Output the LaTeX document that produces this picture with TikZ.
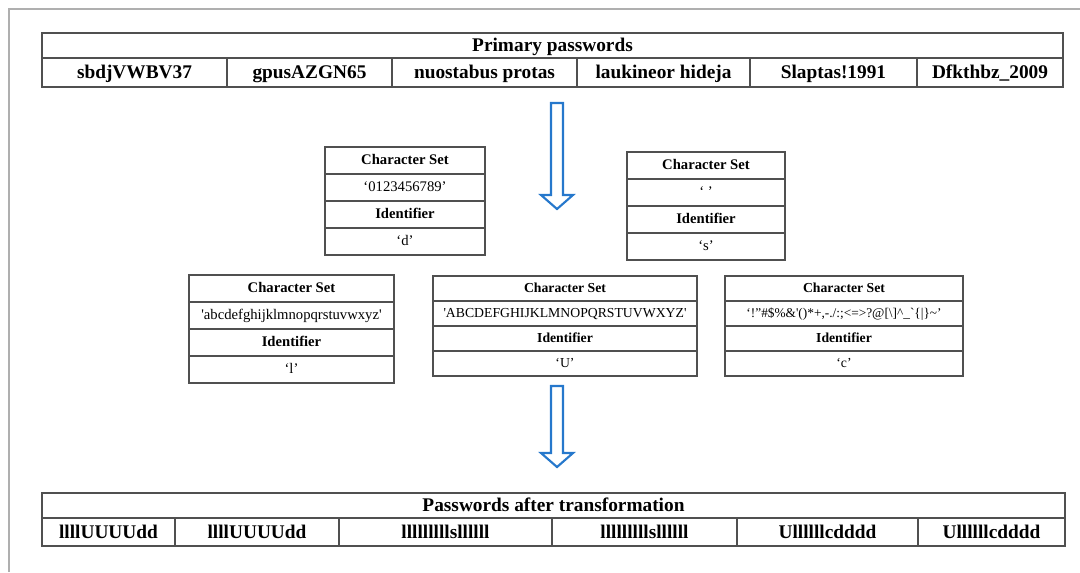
\documentclass[tikz,border=0pt]{standalone}
\usepackage{fontspec}
\setmainfont{Liberation Serif}
\usetikzlibrary{positioning}
\definecolor{arrowblue}{RGB}{38,120,204}
\definecolor{framegray}{RGB}{175,175,175}
\definecolor{rulegray}{RGB}{80,80,80}

\begin{document}
\begin{tikzpicture}[x=0.75pt,y=-0.75pt,
            cell/.style 2 args={draw=rulegray,line width=0.9pt,
                minimum width=#1*0.75pt,minimum height=#2*0.75pt,
                inner sep=0pt,outer sep=0pt,anchor=north west},
            big/.style={font=\fontsize{14.5}{16}\selectfont\bfseries,
                text height=11pt,text depth=2pt},
            head/.style={font=\fontsize{#1}{13}\selectfont\bfseries,
                text height=8pt,text depth=2pt},
            head/.default=11,
            entry/.style={font=\fontsize{#1}{13}\selectfont,
                text height=8pt,text depth=2pt},
            entry/.default=11,
            blockarrow/.style={draw=arrowblue,line width=1.6pt,fill=white,line join=miter}
        ]
        \useasboundingbox (0,0) rectangle (1080,572);
        \draw[framegray,line width=1.2pt] (9,572) -- (9,9) -- (1080,9);

        % primary passwords
        \node[cell={1021}{25},big] (prim) at (42,33) {Primary passwords};
        \node[cell={185}{29},big] (pw1) at (42,58) {sbdjVWBV37};
        \node[cell={165}{29},big,right=0pt of pw1] (pw2) {gpusAZGN65};
        \node[cell={185}{29},big,right=0pt of pw2] (pw3) {nuostabus protas};
        \node[cell={173}{29},big,right=0pt of pw3] (pw4) {laukineor hideja};
        \node[cell={167}{29},big,right=0pt of pw4] (pw5) {Slaptas!1991};
        \node[cell={146}{29},big,right=0pt of pw5] (pw6) {Dfkthbz\_2009};

        % character sets
        \node[cell={160}{27},head] (dset) at (325,147) {Character Set};
        \node[cell={160}{27},entry,below=0pt of dset] (dchars) {`0123456789'};
        \node[cell={160}{27},head,below=0pt of dchars] (did) {Identifier};
        \node[cell={160}{27},entry,below=0pt of did] (dval) {`d'};

        \node[cell={158}{27},head] (sset) at (627,152) {Character Set};
        \node[cell={158}{27},entry,below=0pt of sset] (schars) {`\ '};
        \node[cell={158}{27},head,below=0pt of schars] (sid) {Identifier};
        \node[cell={158}{27},entry,below=0pt of sid] (sval) {`s'};

        \node[cell={205}{27},head] (lset) at (189,275) {Character Set};
        \node[cell={205}{27},entry,below=0pt of lset] (lchars) {\textquotesingle abcdefghijklmnopqrstuvwxyz\textquotesingle};
        \node[cell={205}{27},head,below=0pt of lchars] (lid) {Identifier};
        \node[cell={205}{27},entry,below=0pt of lid] (lval) {`l'};

        \node[cell={264}{25},head=10.3] (uset) at (433,276) {Character Set};
        \node[cell={264}{25},entry=10.3,below=0pt of uset] (uchars) {\textquotesingle ABCDEFGHIJKLMNOPQRSTUVWXYZ\textquotesingle};
        \node[cell={264}{25},head=10.3,below=0pt of uchars] (uid) {Identifier};
        \node[cell={264}{25},entry=10.3,below=0pt of uid] (uval) {`U'};

        \node[cell={238}{25},head=10.3] (cset) at (725,276) {Character Set};
        \node[cell={238}{25},entry=10,below=0pt of cset] (cchars) {`!"\#\$\%\&\textquotesingle()*+,-./:;<=>?@[\textbackslash]\textasciicircum\_\textasciigrave\{\textbar\}\textasciitilde'};
        \node[cell={238}{25},head=10.3,below=0pt of cchars] (cid) {Identifier};
        \node[cell={238}{25},entry=10.3,below=0pt of cid] (cval) {`c'};

        % transformed passwords
        \node[cell={1023}{25},big] (after) at (42,493) {Passwords after transformation};
        \node[cell={133}{28},big] (tr1) at (42,518) {llllUUUUdd};
        \node[cell={164}{28},big,right=0pt of tr1] (tr2) {llllUUUUdd};
        \node[cell={213}{28},big,right=0pt of tr2] (tr3) {lllllllllsllllll};
        \node[cell={185}{28},big,right=0pt of tr3] (tr4) {lllllllllsllllll};
        \node[cell={181}{28},big,right=0pt of tr4] (tr5) {Ullllllcdddd};
        \node[cell={147}{28},big,right=0pt of tr5] (tr6) {Ullllllcdddd};

        % arrows
        \foreach \top/\base/\tip in {103/195/209, 386/453/467}
            \draw[blockarrow] (551,\top) -- (563,\top) -- (563,\base) -- (573,\base)
                -- (557,\tip) -- (541,\base) -- (551,\base) -- cycle;
    \end{tikzpicture}
\end{document}
